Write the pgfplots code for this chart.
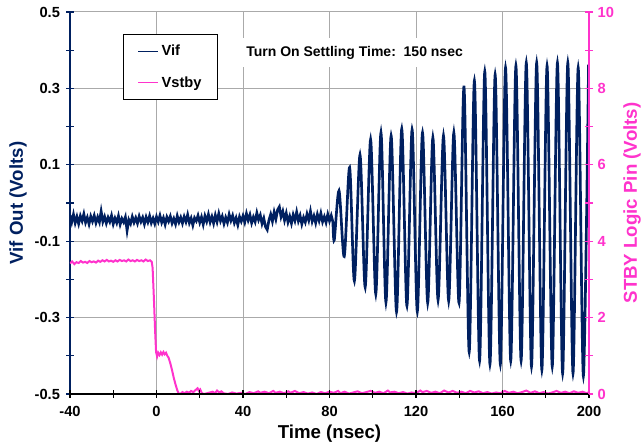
\documentclass[border=0pt]{standalone}
\usepackage{fontspec}
\setmainfont{Liberation Sans}
\usepackage{pgfplots}
\pgfplotsset{compat=1.18}
\definecolor{vifblue}{RGB}{0,32,96}
\definecolor{stbypink}{RGB}{255,51,204}
\definecolor{gridgray}{RGB}{170,170,170}
\begin{document}
\begin{tikzpicture}
\begin{axis}[
  scale only axis, width=389.25pt, height=286.5pt,
  xmin=-40, xmax=200, ymin=-0.5, ymax=0.5,
  axis x line*=bottom, axis y line*=left,
  x axis line style={black, line width=2.2pt, -},
  y axis line style={vifblue, line width=1.9pt, -},
  xtick={-40,0,40,80,120,160,200}, minor xtick={-20,20,60,100,140,180},
  ytick={-0.5,-0.3,-0.1,0.1,0.3,0.5}, minor ytick={-0.4,-0.2,0,0.2,0.4},
  yticklabels={-0.5,-0.3,-0.1,0.1,0.3,0.5},
  xticklabels={-40,0,40,80,120,160,200},
  tick align=center, major tick length=6pt, minor tick length=6pt,
  x tick style={black, line width=0.9pt},
  y tick style={vifblue, line width=0.9pt},
  xmajorgrids, ymajorgrids,
  major grid style={gridgray, line width=0.75pt},
  ticklabel style={font=\fontsize{11}{13}\selectfont\bfseries, black},
  xticklabel style={yshift=-3pt},
  yticklabel style={xshift=-1pt},
  xlabel={Time (nsec)},
  xlabel style={at={(axis description cs:0.5,-0.1033)}, anchor=center, font=\fontsize{14}{16}\selectfont\bfseries, black},
  ylabel={Vif Out (Volts)},
  ylabel style={at={(axis description cs:-0.1002,0.5)}, anchor=center, font=\fontsize{14}{16}\selectfont\bfseries, vifblue},
  legend style={at={(0.1027,0.9424)}, anchor=north west, draw=black, line width=0.8pt, fill=white, inner xsep=10pt, inner ysep=6pt, row sep=10pt, font=\fontsize{11}{13}\selectfont\bfseries, cells={anchor=west}},
  legend image code/.code={\draw[#1] (0pt,0pt) -- (15pt,0pt);},
  clip=true,
]
\addlegendimage{vifblue, line width=1.3pt}
\addlegendentry{Vif}
\addlegendimage{stbypink, line width=1pt}
\addlegendentry{Vstby}
% Vif: noise before oscillation
\addplot[vifblue, line width=2pt, forget plot] coordinates {
(-40.0,-0.032) (-39.2,-0.050) (-38.4,-0.030) (-37.6,-0.052) (-36.8,-0.036) (-36.0,-0.054)
(-35.2,-0.034) (-34.4,-0.047) (-33.6,-0.029) (-32.8,-0.051) (-32.0,-0.038) (-31.2,-0.055)
(-30.4,-0.035) (-29.6,-0.048) (-28.8,-0.033) (-28.0,-0.052) (-27.2,-0.037) (-26.4,-0.050)
(-25.6,-0.022) (-24.8,-0.049) (-24.0,-0.036) (-23.2,-0.053) (-22.4,-0.038) (-21.6,-0.049)
(-20.8,-0.033) (-20.0,-0.055) (-19.2,-0.040) (-18.4,-0.052) (-17.6,-0.034) (-16.8,-0.056)
(-16.0,-0.041) (-15.2,-0.050) (-14.4,-0.037) (-13.6,-0.072) (-12.8,-0.044) (-12.0,-0.054)
(-11.2,-0.036) (-10.4,-0.051) (-9.6,-0.039) (-8.8,-0.053) (-8.0,-0.035) (-7.2,-0.049)
(-6.4,-0.038) (-5.6,-0.055) (-4.8,-0.037) (-4.0,-0.050) (-3.2,-0.034) (-2.4,-0.052)
(-1.6,-0.040) (-0.8,-0.054) (0.0,-0.036) (0.8,-0.049) (1.6,-0.033) (2.4,-0.051)
(3.2,-0.039) (4.0,-0.056) (4.8,-0.037) (5.6,-0.048) (6.4,-0.035) (7.2,-0.053)
(8.0,-0.041) (8.8,-0.055) (9.6,-0.034) (10.4,-0.050) (11.2,-0.038) (12.0,-0.053)
(12.8,-0.036) (13.6,-0.049) (14.4,-0.031) (15.2,-0.052) (16.0,-0.040) (16.8,-0.058)
(17.6,-0.039) (18.4,-0.047) (19.2,-0.033) (20.0,-0.051) (20.8,-0.037) (21.6,-0.056)
(22.4,-0.034) (23.2,-0.048) (24.0,-0.030) (24.8,-0.050) (25.6,-0.036) (26.4,-0.053)
(27.2,-0.032) (28.0,-0.049) (28.8,-0.028) (29.6,-0.047) (30.4,-0.035) (31.2,-0.054)
(32.0,-0.038) (32.8,-0.051) (33.6,-0.030) (34.4,-0.046) (35.2,-0.033) (36.0,-0.052)
(36.8,-0.039) (37.6,-0.057) (38.4,-0.036) (39.2,-0.048) (40.0,-0.034) (40.8,-0.050)
(41.6,-0.028) (42.4,-0.045) (43.2,-0.031) (44.0,-0.052) (44.8,-0.037) (45.6,-0.049)
(46.4,-0.026) (47.2,-0.044) (48.0,-0.032) (48.8,-0.054) (49.6,-0.040) (50.4,-0.062)
(51.2,-0.070) (52.0,-0.045) (52.8,-0.030) (53.6,-0.048) (54.4,-0.024) (55.2,-0.042)
(56.0,-0.018) (56.8,-0.010) (57.6,-0.036) (58.4,-0.022) (59.2,-0.045) (60.0,-0.027)
(60.8,-0.050) (61.6,-0.035) (62.4,-0.053) (63.2,-0.031) (64.0,-0.046) (64.8,-0.024)
(65.6,-0.047) (66.4,-0.033) (67.2,-0.055) (68.0,-0.038) (68.8,-0.050) (69.6,-0.029)
(70.4,-0.045) (71.2,-0.022) (72.0,-0.048) (72.8,-0.034) (73.6,-0.052) (74.4,-0.030)
(75.2,-0.046) (76.0,-0.027) (76.8,-0.049) (77.6,-0.036) (78.4,-0.051) (79.2,-0.030)
(80.0,-0.047) (80.8,-0.033) (81.6,-0.050)
};
% Vif: oscillation
\addplot[vifblue, line width=2pt, smooth, forget plot] coordinates {
(81.6,-0.050) (82.2,-0.097) (84.4,0.032) (86.8,-0.140) (89.3,0.093) (91.5,-0.204)
(94.1,0.126) (96.5,-0.220) (99.0,0.166) (101.4,-0.238) (103.8,0.184) (106.1,-0.260)
(108.5,0.176) (111.0,-0.285) (113.4,0.194) (115.8,-0.269) (118.2,0.192) (120.6,-0.284)
(123.0,0.184) (125.4,-0.261) (127.8,0.171) (130.2,-0.254) (132.7,0.176) (135.1,-0.256)
(137.5,0.184) (139.9,-0.261) (142.2,0.304) (144.6,-0.390) (147.0,0.320) (149.4,-0.413)
(151.8,0.344) (154.2,-0.422) (156.6,0.336) (159.0,-0.422) (161.4,0.354) (163.8,-0.413)
(166.2,0.359) (168.6,-0.413) (171.0,0.367) (173.4,-0.428) (175.8,0.367) (178.2,-0.437)
(180.6,0.359) (183.0,-0.428) (185.4,0.367) (187.8,-0.446) (190.2,0.367) (192.6,-0.446)
(195.0,0.354) (197.4,-0.453) (199.8,0.362)
};
\node[fill=white, inner xsep=5pt, inner ysep=6pt, font=\fontsize{10.5}{12}\selectfont\bfseries] at (axis cs:91.6,0.3935) {Turn On Settling Time:\ \ 150 nsec};
\end{axis}
\begin{axis}[
  scale only axis, width=389.25pt, height=286.5pt,
  xmin=-40, xmax=200, ymin=0, ymax=10,
  axis x line*=bottom, axis y line*=right,
  axis on top,
  x axis line style={black, line width=2.2pt, -},
  y axis line style={stbypink, line width=1.9pt, -},
  xtick={-40,0,40,80,120,160,200}, minor xtick={-20,20,60,100,140,180},
  xticklabels={},
  ytick={0,2,4,6,8,10}, minor ytick={1,3,5,7,9},
  yticklabels={0,2,4,6,8,10},
  tick align=center, major tick length=6pt, minor tick length=6pt,
  x tick style={black, line width=0.9pt},
  y tick style={stbypink, line width=0.9pt},
  yticklabel style={font=\fontsize{11}{13}\selectfont\bfseries, stbypink},
  ylabel={STBY Logic Pin (Volts)},
  ylabel style={at={(axis description cs:1.0829,0.5)}, anchor=center, font=\fontsize{14}{16}\selectfont\bfseries, stbypink},
]
\addplot[stbypink, line width=1.5pt] coordinates {
(-40,3.42) (-39,3.47) (-38,3.40) (-37,3.45) (-36,3.43) (-35,3.48) (-34,3.44) (-33,3.46)
(-32,3.43) (-31,3.48) (-30,3.45) (-29,3.47) (-28,3.44) (-27,3.49) (-26,3.46) (-25,3.50)
(-24,3.47) (-23,3.51) (-22,3.47) (-21,3.49) (-20,3.46) (-19,3.50) (-18,3.47) (-17,3.51)
(-16,3.48) (-15,3.50) (-14,3.47) (-13,3.52) (-12,3.48) (-11,3.50) (-10,3.47) (-9,3.51)
(-8,3.48) (-7,3.50) (-6,3.47) (-5,3.52) (-4,3.48) (-3,3.50) (-2.2,3.46) (-1.8,3.30)
(-1.2,2.50) (-0.6,1.60) (-0.2,1.10) (0.3,0.98) (0.8,1.08) (1.4,1.02) (2.0,1.09) (2.6,1.03)
(3.2,1.10) (3.8,1.04) (4.4,1.08) (5.0,1.00) (5.6,0.95) (6.4,0.80) (7.2,0.62) (8.0,0.42)
(8.8,0.25) (9.6,0.10) (10.2,0.02) (11,0.00) (12,0.05) (13,0.02) (14,0.06) (15,0.03)
(16,0.08) (17,0.05) (18,0.10) (19,0.15) (19.6,0.08) (20.2,0.12) (21,0.02) (22,0.00)
(24,0.03) (26,0.06) (27,0.02) (28,0.09) (29,0.04) (30,0.07) (31,0.02) (33,0.00)
(35,0.04) (37,0.01) (39,0.03) (41,0.00) (43,0.05) (45,0.02) (47,0.07) (48,0.03)
(50,0.06) (52,0.02) (54,0.08) (55,0.03) (57,0.06) (59,0.02) (61,0.07) (62,0.03)
(64,0.08) (66,0.02) (68,0.05) (70,0.01) (72,0.04) (74,0.00) (76,0.05) (78,0.02)
(80,0.06) (82,0.03) (84,0.08) (85,0.02) (87,0.06) (89,0.01) (91,0.04) (93,0.07)
(95,0.02) (97,0.05) (99,0.08) (101,0.03) (103,0.06) (105,0.02) (107,0.09) (108,0.04)
(110,0.06) (112,0.02) (114,0.05) (116,0.01) (118,0.04) (120,0.02) (122,0.09) (123,0.05)
(125,0.08) (127,0.03) (129,0.06) (131,0.02) (133,0.09) (135,0.04) (137,0.08) (139,0.03)
(141,0.06) (143,0.02) (145,0.08) (147,0.04) (149,0.07) (151,0.02) (153,0.05) (155,0.01)
(157,0.04) (159,0.02) (161,0.08) (163,0.03) (165,0.06) (167,0.02) (169,0.05) (171,0.09)
(173,0.03) (175,0.07) (177,0.02) (179,0.05) (181,0.01) (183,0.04) (185,0.08) (187,0.03)
(189,0.06) (191,0.02) (193,0.07) (195,0.03) (197,0.06) (199,0.02) (200,0.05)
};
\end{axis}
\pgfresetboundingbox
\path (-52.5pt,-40.5pt) rectangle (428.25pt,295.5pt);
\end{tikzpicture}
\end{document}
